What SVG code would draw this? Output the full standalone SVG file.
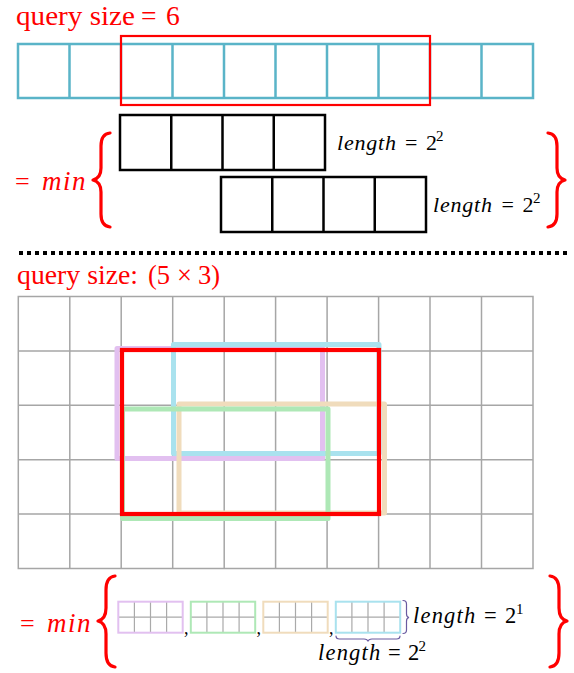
<svg xmlns="http://www.w3.org/2000/svg" width="574" height="673" viewBox="0 0 574 673">
<style>
.brace{fill:none;stroke:#f00;stroke-width:3.2;stroke-linecap:round;stroke-linejoin:round}
.cell1{fill:none;stroke:#5ab4c8;stroke-width:2.5}
.blk{fill:none;stroke:#000;stroke-width:2.5}
.grid{stroke:#a6a6a6;stroke-width:1.5;fill:none}
.sg{stroke:#aaa;stroke-width:1.2;fill:none}
.ov{fill:none;stroke-width:5;stroke-linejoin:round}
</style>
<rect width="574" height="673" fill="#fff"/>

<!-- top section -->
<g font-family="'Liberation Serif', serif" fill="#f00" font-size="27.5">
<text x="16" y="25" textLength="119" lengthAdjust="spacingAndGlyphs">query size</text>
<text x="141" y="25">=</text>
<text x="166" y="25">6</text>
</g>
<g id="array1d">
<rect class="cell1" x="18" y="44" width="515" height="54"/>
<path class="cell1" d="M69.5,44V98M121,44V98M172.5,44V98M224,44V98M275.5,44V98M327,44V98M378.5,44V98M430,44V98M481.5,44V98"/>
</g>
<rect id="query1d" x="121" y="36" width="309" height="69" fill="none" stroke="#f00" stroke-width="2.2"/>

<g id="minTop">
<text x="15" y="190" font-family="'Liberation Serif', serif" fill="#f00" font-size="26">=</text>
<text x="42" y="190" font-family="'Liberation Serif', serif" fill="#f00" font-size="27" font-style="italic" letter-spacing="1.5">min</text>
<path class="brace" d="M110,133 Q101,134 101,146 L101,168 Q101,178 93,180 Q101,182 101,192 L101,214 Q101,226 110,227"/>
<path class="brace" d="M548,133 Q557,134 557,146 L557,168 Q557,178 565,180 Q557,182 557,192 L557,214 Q557,226 548,227"/>
</g>
<g id="box1">
<rect class="blk" x="120" y="115" width="205" height="55"/>
<path class="blk" d="M171.25,115V170M222.5,115V170M273.75,115V170"/>
<text font-family="'Liberation Serif', serif" font-size="22" y="150"><tspan x="337" font-style="italic" letter-spacing="0.8">length</tspan><tspan x="405">=</tspan><tspan x="426">2</tspan><tspan x="436" font-size="15" dy="-9">2</tspan></text>
</g>
<g id="box2">
<rect class="blk" x="221" y="177" width="205" height="55"/>
<path class="blk" d="M272.25,177V232M323.5,177V232M374.75,177V232"/>
<text font-family="'Liberation Serif', serif" font-size="22" y="212"><tspan x="433" font-style="italic" letter-spacing="0.8">length</tspan><tspan x="501.5">=</tspan><tspan x="522.5">2</tspan><tspan x="533" font-size="15" dy="-9">2</tspan></text>
</g>

<line x1="19" y1="253" x2="570" y2="253" stroke="#000" stroke-width="4" stroke-dasharray="4 4"/>

<!-- bottom section -->
<g font-family="'Liberation Serif', serif" fill="#f00" font-size="26.5">
<text x="17" y="284" textLength="121" lengthAdjust="spacingAndGlyphs">query size:</text>
<text x="148" y="284">(5</text>
<text x="177" y="284">×</text>
<text x="198" y="284">3)</text>
</g>
<g id="grid2d">
<rect class="grid" x="18.3" y="296.5" width="514.7" height="272"/>
<path class="grid" d="M69.8,296.5V568.5M121.2,296.5V568.5M172.7,296.5V568.5M224.2,296.5V568.5M275.6,296.5V568.5M327.1,296.5V568.5M378.6,296.5V568.5M430,296.5V568.5M481.5,296.5V568.5M18.3,350.9H533M18.3,405.3H533M18.3,459.7H533M18.3,514.1H533"/>
</g>
<g id="overlaps">
<rect class="ov" stroke="#e2c0f0" x="117" y="348.5" width="205.5" height="110"/>
<rect class="ov" stroke="#a9e2ee" x="173.5" y="344.5" width="205.5" height="109"/>
<rect class="ov" stroke="#f0dcbc" x="179" y="404" width="205.5" height="109"/>
<rect class="ov" stroke="#aee8b6" x="122.5" y="409" width="205.5" height="109.5"/>
<rect fill="none" stroke="#f00" stroke-width="4.2" x="122" y="350" width="257" height="164"/>
</g>

<g id="minBottom">
<text x="20" y="632" font-family="'Liberation Serif', serif" fill="#f00" font-size="26">=</text>
<text x="47" y="632" font-family="'Liberation Serif', serif" fill="#f00" font-size="27" font-style="italic" letter-spacing="1.5">min</text>
<path class="brace" d="M115,576 Q106,577 106,590 L106,608 Q106,619 98,621 Q106,623 106,634 L106,653 Q106,666 115,667"/>
<path class="brace" d="M550,576 Q559,577 559,590 L559,608 Q559,619 567,621 Q559,623 559,634 L559,653 Q559,666 550,667"/>
</g>
<g id="smallPurple">
<path class="sg" d="M134.4,601.7V632.7M150.5,601.7V632.7M166.6,601.7V632.7M118.3,617.2H182.7"/>
<rect x="118.3" y="601.7" width="64.4" height="31" fill="none" stroke="#e2c0f0" stroke-width="2"/>
</g>
<g font-family="'Liberation Serif', serif" font-size="18">
<text x="184" y="634">,</text>
<text x="256.5" y="634">,</text>
<text x="329" y="634">,</text>
</g>
<g id="smallGreen">
<path class="sg" d="M206.9,601.7V632.7M223,601.7V632.7M239.1,601.7V632.7M190.8,617.2H255.2"/>
<rect x="190.8" y="601.7" width="64.4" height="31" fill="none" stroke="#aee8b6" stroke-width="2"/>
</g>
<g id="smallOrange">
<path class="sg" d="M279.4,601.7V632.7M295.5,601.7V632.7M311.6,601.7V632.7M263.3,617.2H327.7"/>
<rect x="263.3" y="601.7" width="64.4" height="31" fill="none" stroke="#f0dcbc" stroke-width="2"/>
</g>
<g id="smallCyan">
<path class="sg" d="M351.9,601.7V632.7M368,601.7V632.7M384.1,601.7V632.7M335.8,617.2H400.2"/>
<rect x="335.8" y="601.7" width="64.4" height="31" fill="none" stroke="#a9e2ee" stroke-width="2"/>
</g>
<g id="lenBraces" fill="none" stroke="#6a5aa0" stroke-width="1.2" stroke-linecap="round">
<path d="M403,600.5 Q406.5,600.5 406.5,604 L406.5,614 Q406.5,617 409,617.5 Q406.5,618 406.5,621 L406.5,630 Q406.5,633.5 403,633.5"/>
<path d="M336,636 Q336,639 339.5,639 L364,639 Q367.5,639 368,641.5 Q368.5,639 372,639 L396.5,639 Q400,639 400,636"/>
</g>
<text font-family="'Liberation Serif', serif" font-size="22.5" y="623"><tspan x="413" font-style="italic" letter-spacing="1.2">length</tspan><tspan x="484">=</tspan><tspan x="505">2</tspan><tspan x="516" font-size="15" dy="-9">1</tspan></text>
<text font-family="'Liberation Serif', serif" font-size="22.5" y="660"><tspan x="318" font-style="italic" letter-spacing="1.2">length</tspan><tspan x="388">=</tspan><tspan x="408">2</tspan><tspan x="418.5" font-size="15" dy="-9">2</tspan></text>
</svg>
